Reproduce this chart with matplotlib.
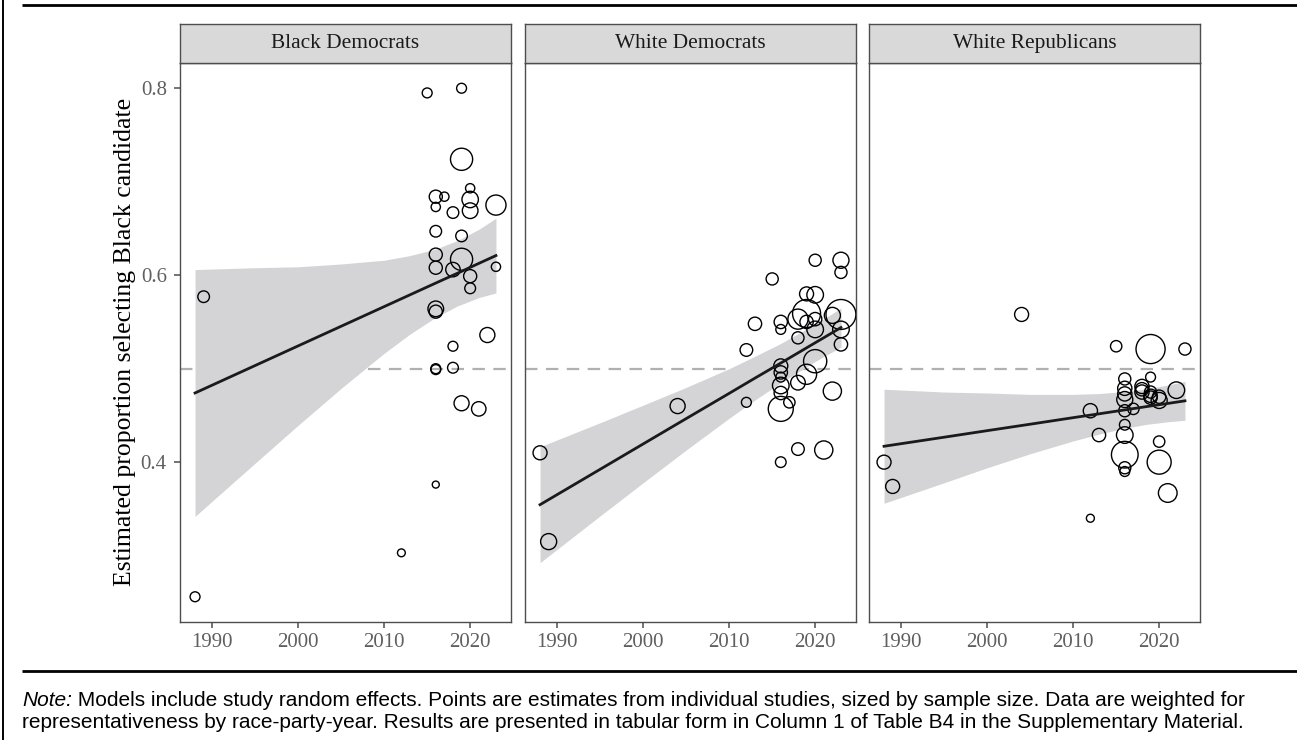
import matplotlib
matplotlib.use("Agg")
import matplotlib.pyplot as plt
import numpy as np

# ---------------- data ----------------
panel_titles = ["Black Democrats", "White Democrats", "White Republicans"]

# Black Democrats: study year, estimate, sample size
bd_year = [1988, 1989, 2012, 2015, 2019, 2019, 2020, 2016, 2017, 2020, 2023, 2016,
           2018, 2020, 2016, 2019, 2016, 2019, 2016, 2018, 2023, 2020, 2020, 2016,
           2016, 2022, 2018, 2016, 2016, 2018, 2019, 2021, 2016]
bd_est = [0.256, 0.577, 0.303, 0.795, 0.800, 0.724, 0.693, 0.684, 0.684, 0.681, 0.675, 0.673,
          0.667, 0.669, 0.647, 0.642, 0.622, 0.617, 0.608, 0.606, 0.609, 0.599, 0.586, 0.564,
          0.561, 0.536, 0.524, 0.500, 0.499, 0.501, 0.463, 0.457, 0.376]
bd_n = [800, 1100, 500, 800, 800, 4000, 700, 1400, 700, 2200, 3300, 700,
        1100, 2000, 1100, 1100, 1400, 4000, 1400, 1700, 700, 1400, 950, 2000,
        1400, 1850, 800, 800, 800, 950, 1850, 1700, 400]

# White Democrats
wd_year = [1988, 1989, 2004, 2012, 2012, 2013, 2015, 2016, 2016, 2016, 2016, 2016,
           2016, 2016, 2016, 2017, 2016, 2018, 2018, 2019, 2020, 2019, 2018, 2019,
           2020, 2020, 2019, 2020, 2018, 2020, 2023, 2023, 2023, 2023, 2023, 2022,
           2022, 2021]
wd_est = [0.410, 0.315, 0.460, 0.464, 0.520, 0.548, 0.596, 0.550, 0.542, 0.503, 0.496, 0.491,
          0.482, 0.474, 0.457, 0.464, 0.400, 0.414, 0.485, 0.580, 0.579, 0.559, 0.553, 0.550,
          0.553, 0.542, 0.494, 0.508, 0.533, 0.616, 0.616, 0.603, 0.558, 0.542, 0.526, 0.557,
          0.476, 0.413]
wd_n = [1600, 2100, 1850, 800, 1300, 1450, 1200, 1450, 800, 1600, 1450, 800,
        2250, 1450, 5100, 1050, 930, 1300, 1750, 1600, 2250, 6400, 3300, 1450,
        1450, 2250, 3300, 4400, 1200, 1200, 2100, 1200, 7300, 2250, 1450, 2100,
        2700, 2700]

# White Republicans
wr_year = [1988, 1989, 2004, 2012, 2012, 2013, 2015, 2016, 2016, 2016, 2016, 2016,
           2017, 2016, 2016, 2016, 2016, 2016, 2018, 2018, 2019, 2019, 2019, 2019,
           2020, 2020, 2020, 2021, 2022, 2023, 2018, 2020, 2019]
wr_est = [0.400, 0.374, 0.558, 0.340, 0.455, 0.429, 0.524, 0.489, 0.479, 0.473, 0.467, 0.455,
          0.457, 0.440, 0.429, 0.408, 0.394, 0.390, 0.481, 0.475, 0.471, 0.521, 0.491, 0.469,
          0.466, 0.422, 0.400, 0.367, 0.477, 0.521, 0.478, 0.470, 0.475]
wr_n = [1600, 1600, 1600, 520, 1650, 1450, 1050, 1200, 1650, 1650, 2100, 1200,
        1050, 930, 2250, 5800, 1200, 800, 1650, 1650, 1450, 6900, 800, 1450,
        2100, 1050, 4700, 2850, 2250, 1200, 1450, 1450, 1200]

# fitted lines and confidence bands
bd_fit_year = [1988, 1995, 2000, 2005, 2010, 2013, 2016, 2018.5, 2021, 2023]
bd_fit = [0.474, 0.5034, 0.5244, 0.5454, 0.5664, 0.579, 0.5916, 0.602, 0.6126, 0.621]
bd_lo = [0.342, 0.399, 0.4395, 0.479, 0.5165, 0.537, 0.555, 0.567, 0.576, 0.581]
bd_hi = [0.606, 0.608, 0.609, 0.612, 0.616, 0.621, 0.628, 0.637, 0.649, 0.661]

wd_fit_year = [1988, 1995, 2000, 2005, 2010, 2013, 2016, 2019.5, 2021, 2023]
wd_fit = [0.3545, 0.3924, 0.4195, 0.4466, 0.4736, 0.4899, 0.506, 0.525, 0.5331, 0.544]
wd_lo = [0.2925, 0.3426, 0.378, 0.413, 0.447, 0.4665, 0.485, 0.505, 0.513, 0.523]
wd_hi = [0.4165, 0.4422, 0.461, 0.480, 0.500, 0.5133, 0.527, 0.545, 0.553, 0.565]

wr_fit_year = [1988, 1995, 2000, 2005, 2010, 2013, 2016, 2018.5, 2021, 2023]
wr_fit = [0.417, 0.4267, 0.4337, 0.4406, 0.4476, 0.4517, 0.4559, 0.4594, 0.4628, 0.4656]
wr_lo = [0.356, 0.378, 0.394, 0.409, 0.4227, 0.430, 0.4363, 0.4404, 0.4432, 0.4448]
wr_hi = [0.478, 0.475, 0.474, 0.4725, 0.4725, 0.4734, 0.4755, 0.4784, 0.4824, 0.4864]

x_ticks = [1990, 2000, 2010, 2020]
y_ticks = [0.4, 0.6, 0.8]
y_label = "Estimated proportion selecting Black candidate"
note_italic = "Note:"
note_line1 = " Models include study random effects. Points are estimates from individual studies, sized by sample size. Data are weighted for"
note_line2 = "representativeness by race-party-year. Results are presented in tabular form in Column 1 of Table B4 in the Supplementary Material."

panels = [
    (bd_year, bd_est, bd_n, bd_fit_year, bd_fit, bd_lo, bd_hi),
    (wd_year, wd_est, wd_n, wd_fit_year, wd_fit, wd_lo, wd_hi),
    (wr_year, wr_est, wr_n, wr_fit_year, wr_fit, wr_lo, wr_hi),
]

# ---------------- figure ----------------
W, H = 1297, 740
fig = plt.figure(figsize=(W / 100, H / 100), dpi=100)
serif = ["Liberation Serif", "DejaVu Serif"]
sans = ["Liberation Sans", "DejaVu Sans"]

# frame lines
ov = fig.add_axes([0, 0, 1, 1])
ov.set_xlim(0, W)
ov.set_ylim(H, 0)
ov.axis("off")
ov.plot([22, W], [5, 5], color="black", lw=2.0, solid_capstyle="butt")
ov.plot([22, W], [670.5, 670.5], color="black", lw=2.0, solid_capstyle="butt")
ov.plot([3, 3], [0, H], color="black", lw=1.4, solid_capstyle="butt")

panel_left_px = [180, 525, 869]
panel_w_px = 331
panel_top_px, panel_bot_px = 63, 622
strip_top_px = 24
edge = "#4D4D4D"
tick_col = "#5F5F5F"

for i, (yrs, est, n, fy, fit, lo, hi) in enumerate(panels):
    l = panel_left_px[i] / W
    b = 1 - panel_bot_px / H
    w = panel_w_px / W
    h = (panel_bot_px - panel_top_px) / H
    ax = fig.add_axes([l, b, w, h])
    ax.set_xlim(1986.25, 2024.75)
    ax.set_ylim(0.229, 0.827)
    ax.axhline(0.5, color="#B0B0B0", lw=1.6, ls=(0, (5.6, 3.8)), zorder=1)
    ax.fill_between(fy, lo, hi, color="#D4D4D6", lw=0, zorder=2)
    ax.scatter(yrs, est, s=0.0635 * np.asarray(n, float), facecolors="none",
               edgecolors="black", linewidths=1.0, zorder=3)
    ax.plot(fy, fit, color="#1A1A1A", lw=2.0, zorder=4)
    for sp in ax.spines.values():
        sp.set_color(edge)
        sp.set_linewidth(1.0)
    ax.set_xticks(x_ticks)
    ax.set_xticklabels([str(t) for t in x_ticks], fontfamily=serif, fontsize=15, color=tick_col)
    ax.tick_params(axis="x", length=4.5, width=1.1, color=edge, pad=3.6)
    if i == 0:
        ax.set_yticks(y_ticks)
        ax.set_yticklabels([f"{t:.1f}" for t in y_ticks], fontfamily=serif, fontsize=15, color=tick_col)
        ax.tick_params(axis="y", length=4.5, width=1.1, color=edge, pad=5)
    else:
        ax.set_yticks([])

    # strip
    sax = fig.add_axes([l, 1 - panel_top_px / H, w, (panel_top_px - strip_top_px) / H])
    sax.set_facecolor("#D9D9D9")
    sax.set_xticks([])
    sax.set_yticks([])
    for sp in sax.spines.values():
        sp.set_color(edge)
        sp.set_linewidth(1.0)
    sax.text(0.5, 0.5, panel_titles[i], ha="center", va="center", transform=sax.transAxes,
             fontfamily=serif, fontsize=15.4, color="#1A1A1A")

fig.text(125 / W, 1 - 342 / H, y_label, rotation=90, ha="center", va="center",
         fontfamily=serif, fontsize=18.5, color="black")

t1 = ov.text(22, 706, note_italic, fontfamily=sans, fontstyle="italic", fontsize=15,
             ha="left", va="baseline", color="black")
ov.annotate(note_line1, xy=(1, 0), xycoords=t1, ha="left", va="bottom",
            fontfamily=sans, fontsize=15, color="black")
ov.text(22, 728, note_line2, fontfamily=sans, fontsize=15, ha="left", va="baseline", color="black")

fig.savefig("out.png", dpi=100)
